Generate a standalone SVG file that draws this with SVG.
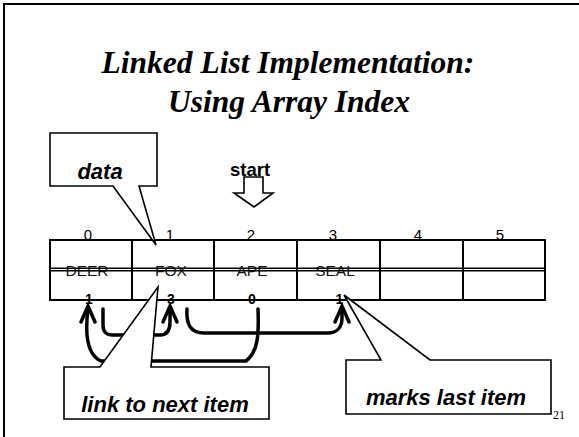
<svg xmlns="http://www.w3.org/2000/svg" width="579" height="437" viewBox="0 0 579 437">
<style>
.title{font-family:"Liberation Serif",serif;font-weight:bold;font-style:italic;font-size:31.5px;fill:#000;text-anchor:middle}
.idx{font-family:"Liberation Sans",Arial,sans-serif;font-size:15px;fill:#000;text-anchor:middle}
.dat{font-family:"Liberation Sans",Arial,sans-serif;font-size:15.5px;fill:#111;text-anchor:middle}
.lnk{font-family:"Liberation Sans",Arial,sans-serif;font-size:14px;font-weight:bold;fill:#000;text-anchor:middle}
.call{font-family:"Liberation Sans",Arial,sans-serif;font-size:22px;font-weight:bold;font-style:italic;fill:#000;text-anchor:middle}
.box{fill:#fff;stroke:#000;stroke-width:1.6}
.grid{fill:none;stroke:#000;stroke-width:2}
.arr{fill:none;stroke:#000;stroke-width:3.5;stroke-linecap:round;stroke-linejoin:round}
.head{fill:none;stroke:#000;stroke-width:3.5;stroke-linecap:round;stroke-linejoin:miter}
</style>
<rect width="579" height="437" fill="#fff"/>
<path d="M4,437 L4,4 L579,4" fill="none" stroke="#000" stroke-width="2"/>
<g id="title">
<text class="title" x="288" y="73">Linked List Implementation:</text>
<text class="title" x="289" y="112">Using Array Index</text>
</g>
<g id="array">
<rect class="grid" x="50" y="240" width="495" height="60"/>
<line x1="50" y1="268.3" x2="545" y2="268.3" stroke="#000" stroke-width="1.4"/>
<line x1="50" y1="270.8" x2="545" y2="270.8" stroke="#000" stroke-width="1.4"/>
<line x1="132" y1="240" x2="132" y2="300" stroke="#000" stroke-width="2"/>
<line x1="214" y1="240" x2="214" y2="300" stroke="#000" stroke-width="2"/>
<line x1="297" y1="240" x2="297" y2="300" stroke="#000" stroke-width="2"/>
<line x1="380" y1="240" x2="380" y2="300" stroke="#000" stroke-width="2"/>
<line x1="463" y1="240" x2="463" y2="300" stroke="#000" stroke-width="2"/>
<text class="idx" x="88" y="240">0</text>
<text class="idx" x="170" y="240">1</text>
<text class="idx" x="251" y="240">2</text>
<text class="idx" x="333" y="240">3</text>
<text class="idx" x="418" y="240">4</text>
<text class="idx" x="500" y="240">5</text>
<text class="dat" x="87" y="276">DEER</text>
<text class="dat" x="171" y="276">FOX</text>
<text class="dat" x="252" y="276">APE</text>
<text class="dat" x="335" y="276">SEAL</text>
<text class="lnk" x="89" y="304">1</text>
<text class="lnk" x="171" y="304">3</text>
<text class="lnk" x="252" y="304">0</text>
<text class="lnk" x="337" y="304">-1</text>
</g>
<g id="start">
<polygon class="box" points="244,177 263,177 263,193 273,193 254,207 234,193 244,193"/>
<text x="250" y="176" font-family="Liberation Sans, Arial, sans-serif" font-weight="bold" font-size="18.5" text-anchor="middle">start</text>
</g>
<g id="connectors">
<path class="arr" d="M258,309 C259,335 258,352 246,361 L101,361 C90,356 84,340 88,309"/>
<path class="arr" d="M103,309 L103,325 C103,332 106,335 113,335 L160,335 C167,335 170,330 170,322 L170,309"/>
<path class="arr" d="M187,309 C186,325 191,333 204,333 L328,333 C337,333 342,327 342,318 L342,309"/>
<polyline class="head" points="81,322 88,306 95,322"/>
<polyline class="head" points="163,322 170,306 177,322"/>
<polyline class="head" points="335,322 342,306 349,322"/>
</g>
<g id="callout-data">
<path class="box" d="M50,133 L157,133 L157,186 L139,186 L156,245 L113,186 L50,186 Z"/>
<text class="call" x="100" y="179" font-size="21">data</text>
</g>
<g id="callout-link">
<path class="box" d="M64,367 L100,367 L158,287 L151,367 L269,367 L269,419 L64,419 Z"/>
<text class="call" x="165" y="412">link to next item</text>
</g>
<g id="page-number">
<text x="553" y="419" font-family="Liberation Serif, serif" font-size="12">21</text>
</g>
<g id="callout-last">
<path class="box" d="M346,360 L381,360 L344,295 L430,360 L551,360 L551,414 L346,414 Z"/>
<text class="call" x="446" y="405" font-size="22.5">marks last item</text>
</g>
</svg>
